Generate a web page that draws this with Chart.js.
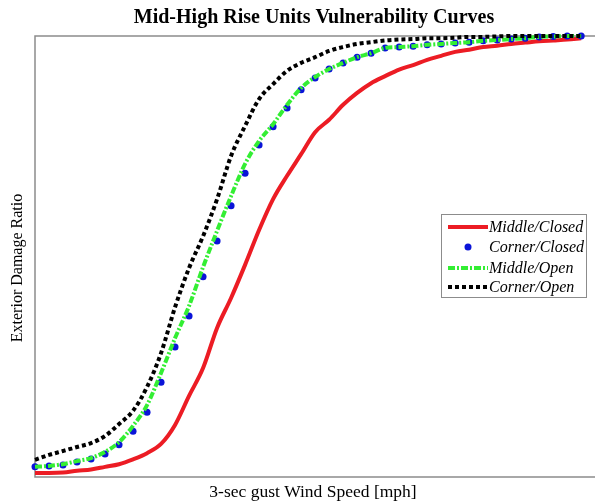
<!DOCTYPE html>
<html>
<head>
<meta charset="utf-8">
<script src="https://cdn.jsdelivr.net/npm/chart.js@4/dist/chart.umd.min.js"></script>
<style>
  html, body { margin: 0; padding: 0; background: #ffffff; overflow: hidden; }
  #wrap { position: relative; width: 595px; height: 501px; }
</style>
</head>
<body>
<div id="wrap"><canvas id="c" width="595" height="501"></canvas></div>
<script>
// ---- data ----
const chartTitle = "Mid-High Rise Units Vulnerability Curves";
const xAxisTitle = "3-sec gust Wind Speed [mph]";
const yAxisTitle = "Exterior Damage Ratio";
const seriesLabels = ["Middle/Closed", "Corner/Closed", "Middle/Open", "Corner/Open"];

const windSpeed = [40, 45, 50, 55, 60, 65, 70, 75, 80, 85,
                   90, 95, 100, 105, 110, 115, 120, 125, 130, 135,
                   140, 145, 150, 155, 160, 165, 170, 175, 180, 185,
                   190, 195, 200, 205, 210, 215, 220, 225, 230, 235];

const middleClosed = [0.009, 0.009, 0.010, 0.014, 0.017, 0.023, 0.029, 0.040, 0.054, 0.075,
                      0.118, 0.184, 0.247, 0.338, 0.406, 0.481, 0.560, 0.630, 0.683, 0.732,
                      0.782, 0.810, 0.844, 0.871, 0.893, 0.909, 0.924, 0.934, 0.946, 0.955,
                      0.964, 0.969, 0.975, 0.978, 0.982, 0.985, 0.988, 0.990, 0.992, 0.995];

const cornerClosed = [0.023, 0.025, 0.027, 0.034, 0.041, 0.052, 0.073, 0.104, 0.147, 0.215,
                      0.295, 0.365, 0.454, 0.535, 0.615, 0.689, 0.753, 0.794, 0.837, 0.878,
                      0.905, 0.925, 0.939, 0.952, 0.961, 0.973, 0.975, 0.977, 0.980, 0.982,
                      0.984, 0.986, 0.989, 0.991, 0.993, 0.995, 0.998, 0.999, 1.000, 1.000];

const middleOpen = [0.023, 0.025, 0.029, 0.036, 0.043, 0.057, 0.079, 0.116, 0.163, 0.236,
                    0.315, 0.388, 0.476, 0.558, 0.637, 0.710, 0.762, 0.800, 0.844, 0.882,
                    0.907, 0.925, 0.939, 0.952, 0.961, 0.973, 0.975, 0.977, 0.980, 0.982,
                    0.984, 0.986, 0.989, 0.991, 0.993, 0.995, 0.998, 0.999, 1.000, 1.000];

const cornerOpen = [0.039, 0.050, 0.059, 0.068, 0.077, 0.093, 0.120, 0.150, 0.204, 0.281,
                    0.385, 0.474, 0.546, 0.630, 0.728, 0.796, 0.857, 0.891, 0.921, 0.939,
                    0.952, 0.966, 0.975, 0.982, 0.986, 0.990, 0.992, 0.993, 0.995, 0.995,
                    0.996, 0.998, 0.998, 0.999, 1.000, 1.000, 1.000, 1.000, 1.000, 1.000];

const xMin = 40, xMax = 238.5, yMin = 0, yMax = 1;

const colRed = "#ec1c24";
const colBlue = "#0a14d8";
const colGreen = "#33ee33";
const colBlack = "#000000";
const frameColor = "#8c8c8c";
const serif = '"Liberation Serif", "Times New Roman", serif';

function pts(ys) { return windSpeed.map((x, i) => ({ x: x, y: ys[i] })); }

// ---- plugin: frame, titles and legend ----
const decor = {
  id: "decor",
  beforeDatasetsDraw(chart) {
    const { ctx, chartArea: a } = chart;
    ctx.save();
    ctx.strokeStyle = frameColor;
    ctx.lineWidth = 1.5;
    ctx.beginPath();
    ctx.moveTo(a.right + 5, a.top);
    ctx.lineTo(a.left, a.top);
    ctx.lineTo(a.left, a.bottom);
    ctx.lineTo(a.right + 5, a.bottom);
    ctx.stroke();
    ctx.restore();
  },
  afterDraw(chart) {
    const { ctx, chartArea: a } = chart;
    const cx = (a.left + a.right) / 2;
    ctx.save();
    ctx.fillStyle = "#000";
    ctx.textAlign = "center";
    ctx.textBaseline = "middle";
    ctx.font = "bold 20px " + serif;
    ctx.fillText(chartTitle, cx + 1, 18);
    ctx.font = "17.5px " + serif;
    ctx.fillText(xAxisTitle, cx, 492);
    ctx.font = "16px " + serif;
    ctx.save();
    ctx.translate(18, 268);
    ctx.rotate(-Math.PI / 2);
    ctx.fillText(yAxisTitle, 0, 0);
    ctx.restore();

    // legend box
    const bx = 441, by = 214, bw = 145, bh = 83;
    ctx.fillStyle = "#fff";
    ctx.fillRect(bx, by, bw, bh);
    ctx.strokeStyle = frameColor;
    ctx.lineWidth = 1;
    ctx.strokeRect(bx + 0.5, by + 0.5, bw, bh);
    const rows = [227, 247, 268, 287];
    const ds = chart.data.datasets;
    ctx.textAlign = "left";
    ctx.font = "italic 16px " + serif;
    ds.forEach((d, i) => {
      const y = rows[i];
      if (d.showLine === false) {
        ctx.fillStyle = d.pointBackgroundColor;
        ctx.beginPath();
        ctx.arc(468, y, d.pointRadius, 0, Math.PI * 2);
        ctx.fill();
      } else {
        ctx.strokeStyle = d.borderColor;
        ctx.lineWidth = d.borderWidth;
        ctx.setLineDash(d.borderDash || []);
        ctx.lineCap = "butt";
        ctx.beginPath();
        ctx.moveTo(448, y);
        ctx.lineTo(488, y);
        ctx.stroke();
        ctx.setLineDash([]);
      }
      ctx.fillStyle = "#000";
      ctx.fillText(d.label, 489, y + 1);
    });
    ctx.restore();
  }
};

new Chart(document.getElementById("c"), {
  type: "line",
  data: {
    datasets: [
      { label: seriesLabels[0], data: pts(middleClosed), borderColor: colRed, borderWidth: 4,
        pointRadius: 0, cubicInterpolationMode: "monotone", clip: false, order: 4, fill: false },
      { label: seriesLabels[1], data: pts(cornerClosed), showLine: false, pointRadius: 3.5,
        pointBackgroundColor: colBlue, pointBorderWidth: 0, borderColor: colBlue, clip: false, order: 3 },
      { label: seriesLabels[2], data: pts(middleOpen), borderColor: colGreen, borderWidth: 4,
        borderDash: [7, 2, 2, 2], pointRadius: 0, cubicInterpolationMode: "monotone", clip: false, order: 2, fill: false },
      { label: seriesLabels[3], data: pts(cornerOpen), borderColor: colBlack, borderWidth: 4,
        borderDash: [4, 3], pointRadius: 0, cubicInterpolationMode: "monotone", clip: false, order: 1, fill: false }
    ]
  },
  options: {
    responsive: false,
    animation: false,
    events: [],
    layout: { padding: { left: 35, top: 36, right: 0, bottom: 24 } },
    scales: {
      x: { type: "linear", min: xMin, max: xMax, display: false },
      y: { type: "linear", min: yMin, max: yMax, display: false }
    },
    plugins: { legend: { display: false }, title: { display: false }, tooltip: { enabled: false } }
  },
  plugins: [decor]
});
</script>
</body>
</html>
